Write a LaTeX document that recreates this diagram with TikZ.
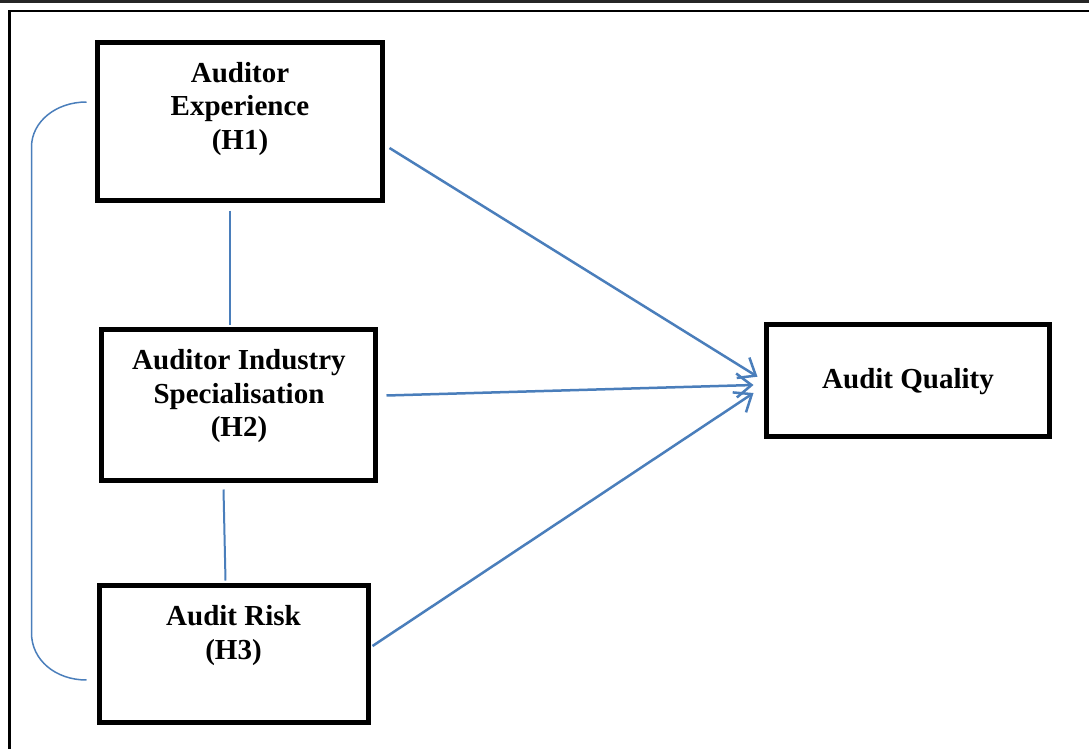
\documentclass[tikz,border=0pt]{standalone}
\usepackage{fontspec}
\setmainfont{Liberation Serif}
\usetikzlibrary{arrows.meta}
\definecolor{wordblue}{RGB}{74,126,187}
\tikzset{
  box/.style={draw=black, line width=5pt, inner sep=0pt},
  lbl/.style={align=center, font=\fontsize{29}{33.5}\selectfont\bfseries, inner sep=0pt},
  arr/.style={draw=wordblue, line width=2.5pt, -{Straight Barb[length=15pt,width=24pt,line width=2.5pt]}},
  link/.style={draw=wordblue, line width=2pt},
  brace/.style={draw=wordblue, line width=1.5pt},
}
\begin{document}
\begin{tikzpicture}[x=1pt,y=-1pt]
\useasboundingbox[fill=white] (0,0) rectangle (1089,749);
% page frame
\draw[line width=3pt, black!85] (0,1.5) -- (1089,1.5);
\draw[line width=2.5pt] (1089,11) -- (9.5,11) -- (9.5,749);
% boxes
\node[box, minimum width=285pt, minimum height=158pt] (b1) at (240,121.5) {};
\node[box, minimum width=274pt, minimum height=151pt] (b2) at (238.5,404.5) {};
\node[box, minimum width=268.5pt, minimum height=137pt] (b3) at (233.75,654) {};
\node[box, minimum width=283.5pt, minimum height=112pt] (b4) at (907.75,380) {};
% labels
\node[lbl] (t1) at (240,109) {Auditor\\Experience\\(H1)};
\node[lbl] (t2) at (239,396.5) {Auditor Industry\\Specialisation\\(H2)};
\node[lbl] (t3) at (233.5,635.5) {Audit Risk\\(H3)};
\node[lbl] (t4) at (908,381.5) {Audit Quality};
% arrows
\draw[arr] ([xshift=4.5pt,yshift=-26.5pt]b1.east) -- ([xshift=-6pt,yshift=3.3pt]b4.west);
\draw[arr] ([xshift=8.5pt,yshift=9pt]b2.east) -- ([xshift=-10pt,yshift=-5pt]b4.west);
\draw[arr] ([xshift=2pt,yshift=8pt]b3.east) -- ([xshift=-10pt,yshift=-13pt]b4.west);
% vertical links
\draw[link] ([xshift=-10.5pt,yshift=-7.5pt]b1.south) -- ([xshift=-9pt,yshift=2pt]b2.north);
\draw[link] ([xshift=-15pt,yshift=-7pt]b2.south) -- ([xshift=-8.25pt,yshift=2.5pt]b3.north);
% bracket
\coordinate (bt) at ([xshift=-8.5pt,yshift=19.5pt]b1.west);
\coordinate (bb) at ([xshift=-10.5pt,yshift=-26pt]b3.west);
\draw[brace] (bt) .. controls +(-31,0) and +(0,-25) .. ++(-55,45) -- ++(0,486) .. controls +(0,27) and +(-31,0) .. (bb);
\end{tikzpicture}
\end{document}
